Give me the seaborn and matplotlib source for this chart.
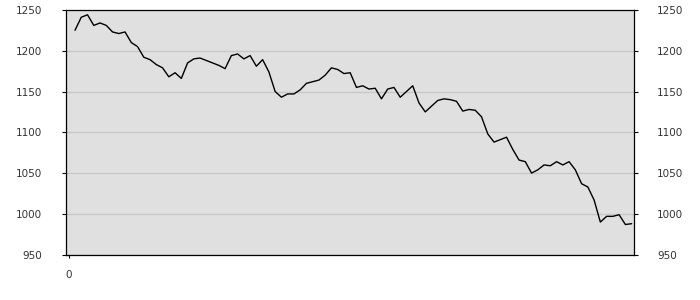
import matplotlib
matplotlib.use("Agg")
import matplotlib.pyplot as plt
import seaborn as sns
import pandas as pd

# Data
values = [
    1225, 1241, 1244, 1231, 1234, 1231, 1223, 1221, 1223, 1210,
    1205, 1192, 1189, 1183, 1179, 1168, 1173, 1166, 1185, 1190,
    1191, 1188, 1185, 1182, 1178, 1194, 1196, 1190, 1194, 1181,
    1189, 1174, 1150, 1143, 1147, 1147, 1152, 1160, 1162, 1164,
    1170, 1179, 1177, 1172, 1173, 1155, 1157, 1153, 1154, 1141,
    1153, 1155, 1143, 1150, 1157, 1136, 1125, 1132, 1139, 1141,
    1140, 1138, 1126, 1128, 1127, 1119, 1098, 1088, 1091, 1094,
    1079, 1066, 1064, 1050, 1054, 1060, 1059, 1064, 1060, 1064,
    1054, 1037, 1033, 1017, 990, 997, 997, 999, 987, 988,
]
positions = list(range(1, len(values) + 1))
y_ticks = [950, 1000, 1050, 1100, 1150, 1200, 1250]
x_ticks = [0]
x_tick_labels = ["0"]

df = pd.DataFrame({"x": positions, "value": values})

sns.set_style("white")
plt.rcParams["font.family"] = ["DejaVu Sans"]

fig = plt.figure(figsize=(7, 3), dpi=100)
ax = fig.add_axes([66 / 700, 1 - 254.7 / 300, (633.5 - 66) / 700, (254.7 - 9.9) / 300])
ax.set_facecolor("#e0e0e0")

sns.lineplot(data=df, x="x", y="value", color="black", linewidth=1.0, ax=ax)

ax.set_ylim(950, 1250)
ax.set_xlim(-0.44, 90.3)
ax.set_yticks(y_ticks)
ax.set_xticks(x_ticks)
ax.set_xticklabels(x_tick_labels)
ax.yaxis.grid(True, color="#c8c8c8", linewidth=1.0)
ax.xaxis.grid(False)
ax.set_axisbelow(True)
for s in ax.spines.values():
    s.set_visible(True)
    s.set_color("black")
    s.set_linewidth(0.9)

ax.tick_params(axis="y", left=True, right=True, labelleft=True, labelright=True,
               length=3, width=0.8, color="black", pad=14, labelsize=7.5,
               labelcolor="#333333")
ax.tick_params(axis="x", bottom=True, length=2, width=0.8, color="black", pad=9,
               labelsize=7.5, labelcolor="#333333")
ax.set_xlabel("")
ax.set_ylabel("")

fig.savefig("out.png", dpi=100)
